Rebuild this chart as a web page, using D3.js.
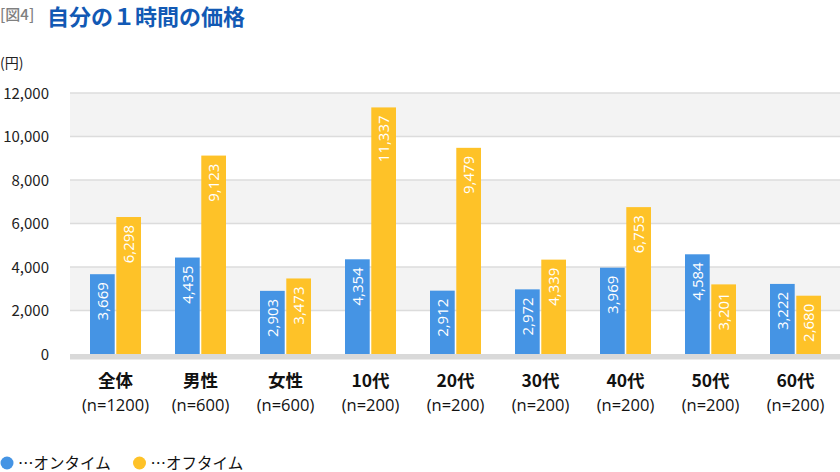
<!DOCTYPE html>
<html><head><meta charset="utf-8">
<script src="https://cdn.jsdelivr.net/npm/d3@7"></script>
<style>
body{margin:0;background:#fff;}
svg{display:block;font-family:"Noto Sans CJK JP","Noto Sans",sans-serif;}
</style></head>
<body><svg id="c" width="840" height="472"></svg>
<script>
const categories = ["全体","男性","女性","10代","20代","30代","40代","50代","60代"];
const sampleLabels = ["(n=1200)","(n=600)","(n=600)","(n=200)","(n=200)","(n=200)","(n=200)","(n=200)","(n=200)"];
const onTime = [3669,4435,2903,4354,2912,2972,3969,4584,3222];
const offTime = [6298,9123,3473,11337,9479,4339,6753,3201,2680];
const seriesNames = ["…オンタイム","…オフタイム"];
const yTicks = [0,2000,4000,6000,8000,10000,12000];

const svg = d3.select("#c");
const blue = "#4594e4", yellow = "#fec228";

// title
svg.append("text").attr("x",0).attr("y",20).attr("font-size",15).attr("font-weight",500).attr("fill","#808080").text("[図4]");
svg.append("text").attr("x",47).attr("y",25).attr("font-size",22).attr("font-weight","bold").attr("fill","#1259b4").text("自分の１時間の価格");

const x0 = d3.scaleBand().domain(categories).range([73,838]).paddingInner(0).paddingOuter(0);
const y = d3.scaleLinear().domain([0,12000]).range([354,93]);

// bands
const bandPairs = [[10000,12000],[6000,8000],[2000,4000]];
svg.selectAll("rect.band").data(bandPairs).enter().append("rect")
  .attr("x",70).attr("width",770)
  .attr("y",d=>y(d[1])).attr("height",d=>y(d[0])-y(d[1]))
  .attr("fill","#f3f3f3");

// gridlines
svg.selectAll("line.grid").data(yTicks.filter(d=>d>0)).enter().append("line")
  .attr("x1",70).attr("x2",840).attr("y1",d=>y(d)).attr("y2",d=>y(d))
  .attr("stroke","#dcdcdc").attr("stroke-width",1.6);

// y axis labels
const yAxis = d3.axisLeft(y).tickValues(yTicks).tickSize(0).tickPadding(0).tickFormat(d3.format(","));
const ga = svg.append("g").attr("transform","translate(49,0)").call(yAxis);
ga.select(".domain").remove();
ga.selectAll("text").attr("font-size",15).attr("fill","#222").attr("font-family","'Noto Sans CJK JP',sans-serif").attr("dy","0.35em");
svg.append("text").attr("x",0).attr("y",68).attr("font-size",14).attr("fill","#222").text("(円)");

// bars
const x1 = d3.scaleBand().domain([0,1]).range([0,51]).paddingInner(0.06);
const data = categories.map((c,i)=>({c, vals:[onTime[i],offTime[i]]}));
const g = svg.selectAll("g.grp").data(data).enter().append("g")
  .attr("transform",d=>`translate(${x0(d.c)+x0.bandwidth()/2-25.5},0)`);
g.selectAll("rect").data(d=>d.vals.map((v,k)=>({v,k}))).enter().append("rect")
  .attr("x",d=>x1(d.k)).attr("width",x1.bandwidth())
  .attr("y",d=>y(d.v)).attr("height",d=>y(0)-y(d.v))
  .attr("fill",d=>d.k===0?blue:yellow);
g.selectAll("text.val").data(d=>d.vals.map((v,k)=>({v,k}))).enter().append("text")
  .attr("transform",d=>`translate(${x1(d.k)+x1.bandwidth()/2},${y(d.v)+8}) rotate(-90)`)
  .attr("text-anchor","end").attr("dy","0.35em")
  .attr("font-size",15).attr("fill","#fff")
  .attr("font-family","'Open Sans','Noto Sans',sans-serif")
  .text(d=>d3.format(",")(d.v));

// baseline
svg.append("rect").attr("x",70).attr("width",770).attr("y",354).attr("height",5.5).attr("fill","#d9d9d9");

// x labels
const xl = svg.selectAll("g.xl").data(categories).enter().append("g")
  .attr("transform",d=>`translate(${x0(d)+x0.bandwidth()/2},0)`);
xl.append("text").attr("y",387).attr("text-anchor","middle").attr("font-size",17.5).attr("font-weight","bold").attr("fill","#111").text(d=>d);
xl.append("text").attr("y",411).attr("text-anchor","middle").attr("font-size",16.5).attr("fill","#111")
  .attr("font-family","'Open Sans','Noto Sans',sans-serif")
  .text((d,i)=>sampleLabels[i]);

// legend
const lg = svg.selectAll("g.lg").data(seriesNames).enter().append("g")
  .attr("transform",(d,i)=>`translate(${i===0?7:139.5},463)`);
lg.append("circle").attr("r",6.5).attr("fill",(d,i)=>i===0?blue:yellow);
lg.append("text").attr("x",11).attr("dy","0.36em").attr("font-size",15.5).attr("fill","#111").text(d=>d);
</script></body></html>
